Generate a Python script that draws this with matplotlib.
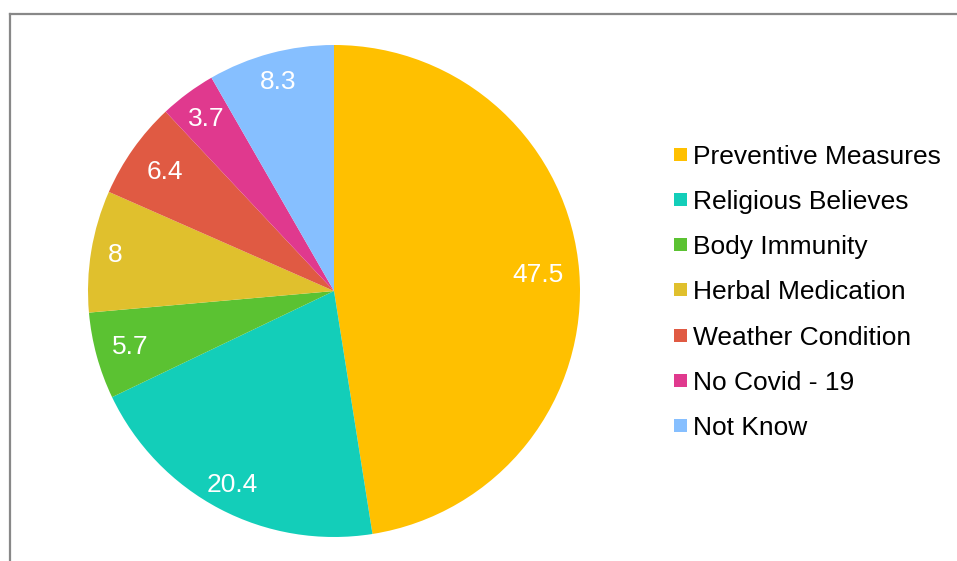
import matplotlib

matplotlib.use("Agg")
import matplotlib.pyplot as plt
import numpy as np
from matplotlib.lines import Line2D
from matplotlib.patches import Rectangle

plt.rcParams["font.family"] = ["Liberation Sans", "DejaVu Sans"]

categories = [
    "Preventive Measures",
    "Religious Believes",
    "Body Immunity",
    "Herbal Medication",
    "Weather Condition",
    "No Covid - 19",
    "Not Know",
]
values = [47.5, 20.4, 5.7, 8, 6.4, 3.7, 8.3]
value_labels = ["47.5", "20.4", "5.7", "8", "6.4", "3.7", "8.3"]

colors = ["#FFC000", "#13CEB9", "#5BC232", "#E0C02D", "#E05A43", "#E0398E", "#86BFFF"]
# radial position of each value label, as a fraction of the radius
label_r = [0.83, 0.89, 0.86, 0.90, 0.84, 0.87, 0.88]

W, H = 957, 561
fig = plt.figure(figsize=(W / 100, H / 100), dpi=100)

# pie centre and radius in pixels
cx, cy, R = 334, 291, 246
ax = fig.add_axes([(cx - R) / W, (H - cy - R) / H, 2 * R / W, 2 * R / H])
wedges, _ = ax.pie(values, colors=colors, startangle=90, counterclock=False,
                   radius=1, wedgeprops=dict(linewidth=0))
ax.set_xlim(-1, 1)
ax.set_ylim(-1, 1)
ax.set_aspect("equal")
ax.axis("off")

for w, lab, rf in zip(wedges, value_labels, label_r):
    mid = np.deg2rad((w.theta1 + w.theta2) / 2)
    ax.text(rf * np.cos(mid), rf * np.sin(mid), lab, color="white",
            fontsize=19, ha="center", va="center")

# legend drawn row by row
for i, (name, c) in enumerate(zip(categories, colors)):
    y = 154 + 45.3 * i
    fig.add_artist(Rectangle((674 / W, 1 - (y + 6.5) / H), 13 / W, 13 / H,
                             transform=fig.transFigure, facecolor=c,
                             edgecolor="none"))
    fig.text(693 / W, 1 - y / H, name, fontsize=19, ha="left",
             va="center_baseline", color="black")

# chart frame (left and top edges)
fig.add_artist(Line2D([9.5 / W, 9.5 / W], [0, 1 - 13.5 / H],
                      transform=fig.transFigure, color="#888888", lw=1.6))
fig.add_artist(Line2D([9.5 / W, 1], [1 - 13.5 / H, 1 - 13.5 / H],
                      transform=fig.transFigure, color="#888888", lw=1.6))

fig.savefig("out.png", dpi=100)
